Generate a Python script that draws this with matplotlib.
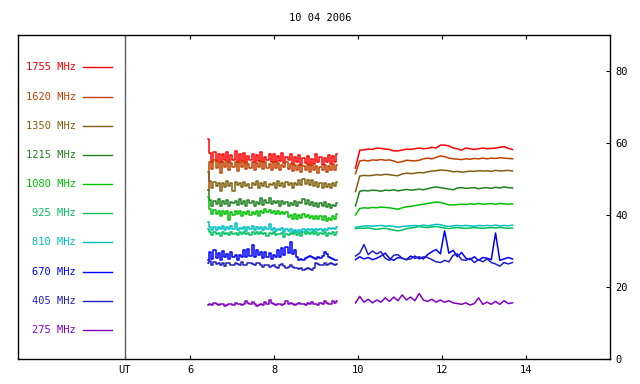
import numpy as np
import matplotlib
matplotlib.use('Agg')
import matplotlib.pyplot as plt

plt.rcParams['font.family'] = ['DejaVu Sans Mono']

title = '10 04 2006'
freqs = ['1755 MHz', '1620 MHz', '1350 MHz', '1215 MHz', '1080 MHz',
         '925 MHz', '810 MHz', '670 MHz', '405 MHz', '275 MHz']
colors = ['#ff0000', '#c04000', '#806010', '#208020', '#00c000',
          '#00c060', '#00c0c0', '#0000ff', '#2020c0', '#8000c0']

# time span of the two observing runs (UT hours)
run1 = (6.43, 9.51)
run2 = (9.94, 13.68)
xticks = [6, 8, 10, 12, 14]
yticks = [0, 20, 40, 60, 80]

# first run, sampled every ~0.05 h (noisy)
f1755_a = [61.0, 57.2, 54.8, 57.6, 55.0, 57.0, 54.6, 56.8, 55.4, 57.4, 54.8, 56.6, 55.2, 57.8, 54.6, 56.8,
           55.0, 57.2, 54.4, 56.4, 55.2, 57.0, 54.8, 56.6, 55.0, 57.6, 54.6, 56.2, 55.4, 57.0, 54.8, 56.8,
           54.6, 56.4, 55.0, 57.2, 54.4, 56.0, 55.2, 56.8, 54.2, 56.2, 54.6, 56.6, 54.0, 55.8, 54.4, 56.4,
           53.8, 55.6, 54.2, 56.8, 54.6, 56.2, 54.0, 55.8, 54.6, 56.6, 54.2, 56.4, 54.8, 57.0]
f1620_a = [47.0, 54.8, 52.8, 55.2, 53.0, 54.6, 51.8, 54.8, 53.4, 55.0, 52.6, 54.4, 53.2, 54.8, 52.2, 54.6,
           53.4, 55.0, 52.8, 54.2, 53.0, 54.8, 52.4, 54.4, 53.2, 55.0, 52.8, 54.6, 53.0, 54.2, 52.6, 54.8,
           53.0, 54.4, 52.4, 54.0, 53.2, 54.6, 52.8, 54.2, 52.2, 53.8, 52.6, 54.0, 52.0, 53.6, 52.4, 54.2,
           52.0, 53.8, 52.6, 53.6, 51.8, 53.4, 52.4, 54.0, 52.0, 53.6, 52.6, 54.2, 52.4, 53.8]
f1350_a = [52.0, 49.4, 47.6, 49.2, 48.0, 49.0, 46.6, 48.8, 47.8, 49.4, 48.0, 48.8, 46.8, 49.2, 48.2, 49.0,
           47.8, 49.2, 48.0, 48.6, 47.4, 49.0, 48.2, 49.4, 47.6, 48.8, 48.0, 49.2, 47.8, 48.6, 48.2, 49.0,
           47.6, 49.4, 48.0, 48.8, 47.8, 49.2, 48.2, 48.8, 47.6, 49.0, 48.4, 49.6, 48.2, 50.0, 48.6, 49.8,
           48.4, 49.6, 48.0, 49.2, 47.8, 48.8, 47.4, 49.0, 47.8, 48.6, 47.6, 48.8, 48.0, 49.2]
f1215_a = [47.0, 44.2, 42.6, 44.0, 43.0, 44.4, 42.6, 43.8, 43.0, 44.2, 42.4, 43.6, 43.2, 44.0, 42.8, 44.4,
           43.0, 43.8, 42.6, 44.2, 43.2, 44.0, 42.6, 43.6, 43.0, 44.6, 42.8, 44.2, 43.4, 44.8, 43.0, 44.0,
           43.2, 43.8, 42.6, 44.0, 43.0, 43.6, 42.6, 43.4, 42.8, 43.8, 42.4, 43.6, 43.2, 44.4, 43.0, 44.2,
           42.8, 43.6, 42.6, 43.4, 42.2, 43.2, 42.6, 43.6, 42.2, 43.0, 42.0, 42.8, 42.4, 43.4]
f1080_a = [45.0, 41.6, 40.2, 41.4, 40.4, 41.2, 39.8, 41.0, 40.2, 41.2, 38.6, 40.8, 40.0, 41.2, 40.4, 41.0,
           39.8, 40.8, 40.2, 41.2, 40.0, 40.8, 40.4, 41.0, 39.8, 41.0, 40.6, 41.6, 40.8, 41.4, 40.6, 41.2,
           40.4, 41.0, 40.2, 40.8, 40.4, 40.8, 39.4, 40.0, 39.0, 40.2, 38.8, 40.0, 39.2, 40.2, 39.4, 40.0,
           39.2, 39.8, 38.8, 39.6, 39.0, 39.8, 38.6, 39.6, 38.4, 39.2, 38.6, 39.6, 39.0, 40.2]
f925_a = [36.0, 35.2, 34.4, 35.2, 34.6, 35.0, 34.2, 35.2, 34.6, 35.0, 34.4, 35.2, 34.8, 35.0, 34.4, 35.2,
          34.6, 35.4, 34.8, 35.0, 34.4, 35.2, 34.6, 35.4, 34.8, 35.2, 34.6, 35.0, 34.2, 35.0, 34.6, 35.4,
          34.4, 34.8, 34.6, 35.0, 34.0, 34.8, 34.4, 35.0, 34.6, 35.2, 34.4, 35.0, 34.2, 35.2, 34.6, 35.2,
          34.8, 35.4, 34.6, 35.2, 34.4, 35.0, 34.6, 35.2, 34.2, 35.0, 34.6, 35.2, 34.4, 35.2]
f810_a = [38.0, 36.6, 35.8, 36.8, 35.8, 36.6, 36.0, 37.0, 35.8, 36.6, 36.2, 37.0, 36.0, 37.8, 35.8, 36.4,
          36.0, 36.8, 35.6, 36.6, 36.0, 37.0, 35.8, 36.6, 36.0, 36.8, 35.8, 36.6, 36.2, 37.6, 35.8, 36.4,
          35.6, 36.2, 35.8, 36.4, 35.4, 36.0, 35.6, 36.2, 35.4, 35.8, 35.2, 35.8, 35.4, 36.0, 35.6, 36.0,
          35.8, 36.2, 35.6, 36.0, 35.8, 36.2, 35.6, 36.0, 35.8, 36.4, 36.0, 36.4, 36.2, 36.8]
f670_a = [27.6, 29.6, 27.8, 30.2, 28.0, 29.4, 27.6, 30.0, 28.2, 29.2, 27.8, 29.6, 28.2, 29.0, 27.6, 28.8,
          28.4, 30.4, 28.2, 30.6, 28.6, 31.8, 28.4, 30.2, 28.8, 29.8, 28.0, 29.6, 28.2, 29.4, 27.8, 29.0,
          28.2, 30.2, 28.4, 30.8, 29.0, 31.2, 29.4, 32.6, 29.2, 30.4, 28.4, 27.6, 27.8, 27.4, 28.0, 28.2,
          28.6, 28.2, 28.0, 27.8, 28.2, 28.0, 28.6, 29.6, 29.2, 28.4, 28.0, 27.8, 27.6, 27.4]
f405_a = [26.6, 27.2, 26.2, 27.0, 26.4, 26.8, 26.0, 26.6, 25.8, 26.6, 26.8, 26.2, 26.0, 26.6, 26.4, 26.2,
          27.0, 26.2, 26.0, 26.6, 26.8, 26.4, 26.0, 26.8, 26.6, 26.0, 25.6, 26.2, 26.0, 25.6, 25.8, 26.2,
          25.6, 25.4, 26.0, 26.4, 25.8, 25.4, 25.6, 26.0, 25.6, 25.4, 25.2, 25.0, 25.2, 24.8, 25.0, 25.2,
          25.0, 24.8, 25.2, 26.8, 26.4, 26.0, 26.2, 26.6, 26.2, 26.4, 26.8, 26.4, 26.2, 26.4]
f275_a = [15.0, 15.4, 15.0, 15.6, 15.2, 15.0, 15.4, 15.2, 14.8, 15.0, 15.4, 15.2, 15.0, 15.6, 15.4, 15.2,
          15.0, 15.4, 16.2, 15.6, 15.2, 15.8, 15.4, 14.8, 15.0, 15.4, 15.0, 15.8, 15.4, 16.4, 15.6, 15.2,
          15.0, 15.4, 15.2, 15.0, 15.4, 16.0, 15.2, 15.6, 15.4, 15.0, 15.2, 15.6, 15.4, 15.2, 15.0, 15.6,
          15.2, 15.8, 15.4, 15.2, 15.0, 15.6, 15.4, 16.2, 15.6, 15.2, 15.4, 16.0, 15.6, 16.2]

# second run, sampled every ~0.1 h
f1755_b = [53.0, 58.0, 58.1, 58.3, 58.2, 58.6, 58.5, 58.3, 58.2, 57.8, 57.8, 58.0, 58.3, 58.2, 58.4, 58.6,
           58.4, 58.5, 58.8, 58.6, 59.4, 59.4, 59.2, 58.6, 58.4, 58.0, 58.6, 58.4, 58.2, 58.4, 58.6, 58.4,
           58.5, 58.6, 58.8, 59.0, 58.5, 58.2]
f1620_b = [51.5, 55.0, 55.2, 55.0, 55.3, 55.2, 55.4, 55.2, 55.3, 55.0, 54.6, 54.8, 55.2, 55.1, 55.0, 55.2,
           55.6, 55.8, 55.6, 56.0, 56.4, 56.2, 55.8, 55.6, 55.5, 55.4, 55.6, 55.5, 55.7, 55.6, 55.8, 55.6,
           55.8, 55.7, 55.9, 55.8, 55.7, 55.6]
f1350_b = [46.5, 50.8, 51.0, 50.9, 51.0, 51.2, 51.1, 51.3, 51.2, 51.0, 50.9, 51.4, 51.6, 51.5, 51.6, 51.8,
           51.7, 52.0, 52.2, 52.3, 52.5, 52.4, 52.3, 52.0, 52.1, 51.9, 52.0, 52.2, 52.1, 52.3, 52.2, 52.3,
           52.1, 52.4, 52.2, 52.3, 52.4, 52.2]
f1215_b = [42.5, 46.6, 46.8, 46.7, 46.9, 46.8, 46.6, 46.9, 46.8, 47.0, 46.7, 46.9, 47.1, 46.9, 47.0, 47.2,
           47.0, 47.3, 47.6, 47.8, 47.6, 47.4, 47.2, 47.0, 47.5, 47.6, 47.4, 47.5, 47.6, 47.3, 47.5, 47.6,
           47.4, 47.7, 47.5, 47.8, 47.6, 47.5]
f1080_b = [40.0, 41.8, 42.0, 41.9, 42.1, 42.0, 42.2, 42.1, 42.0, 41.8, 41.6, 42.0, 42.3, 42.4, 42.6, 42.8,
           43.0, 43.2, 43.4, 43.6, 43.5, 43.2, 42.8, 42.8, 42.9, 43.0, 42.9, 43.1, 43.0, 43.2, 43.0, 43.1,
           43.2, 43.0, 43.2, 43.1, 43.0, 43.1]
f925_b = [36.2, 36.4, 36.3, 36.4, 36.2, 36.0, 36.2, 36.3, 36.1, 35.8, 35.6, 35.8, 36.2, 36.4, 36.6, 36.8,
          36.6, 36.5, 36.7, 36.8, 36.6, 36.4, 36.2, 36.4, 36.5, 36.4, 36.3, 36.4, 36.5, 36.4, 36.3, 36.4,
          36.5, 36.4, 36.6, 36.4, 36.3, 36.4]
f810_b = [36.6, 36.8, 36.9, 37.0, 36.9, 37.0, 37.1, 36.9, 37.0, 36.8, 36.6, 36.8, 36.9, 37.0, 37.1, 36.9,
          37.2, 37.0, 37.2, 37.4, 37.3, 37.0, 36.8, 37.0, 37.1, 37.0, 37.1, 37.0, 36.9, 37.1, 37.0, 37.1,
          37.0, 37.2, 37.0, 37.1, 37.0, 37.2]
f670_b = [27.6, 28.4, 27.8, 28.2, 27.6, 28.0, 28.6, 29.4, 28.0, 27.4, 28.2, 28.0, 27.6, 28.6, 28.0, 28.4,
          27.8, 29.0, 29.8, 30.4, 29.2, 35.6, 29.4, 30.2, 28.4, 29.6, 28.0, 27.6, 28.4, 27.4, 28.2, 28.0,
          27.6, 35.0, 27.4, 27.8, 28.2, 27.8]
f405_b = [28.6, 29.4, 31.8, 29.0, 30.0, 29.2, 29.8, 28.0, 27.4, 28.8, 29.0, 28.0, 27.6, 27.8, 28.6, 27.8,
          28.4, 28.2, 27.6, 27.0, 26.8, 27.4, 27.0, 28.8, 29.2, 27.6, 27.4, 28.0, 26.8, 27.6, 27.0, 27.8,
          26.8, 26.4, 25.8, 26.8, 26.4, 26.8]
f275_b = [15.6, 17.4, 15.8, 16.6, 15.6, 16.4, 15.8, 17.0, 16.0, 17.2, 16.2, 17.8, 16.4, 17.2, 16.2, 18.2,
          16.4, 16.0, 16.6, 15.8, 16.4, 15.8, 16.2, 15.6, 15.4, 15.2, 15.6, 15.0, 15.4, 17.0, 15.2, 15.8,
          15.2, 16.0, 15.2, 16.2, 15.4, 15.6]

runs_a = [f1755_a, f1620_a, f1350_a, f1215_a, f1080_a, f925_a, f810_a, f670_a, f405_a, f275_a]
runs_b = [f1755_b, f1620_b, f1350_b, f1215_b, f1080_b, f925_b, f810_b, f670_b, f405_b, f275_b]

fig = plt.figure(figsize=(6.4, 3.84), dpi=100)
ax = fig.add_axes([0.028, 0.065, 0.925, 0.844])
ax.set_xlim(1.9, 16.0)
ax.set_ylim(0, 90)

for ya, yb, c in zip(runs_a, runs_b, colors):
    ta = np.linspace(run1[0], run1[1], len(ya))
    tb = np.linspace(run2[0], run2[1], len(yb))
    ax.plot(ta, ya, color=c, lw=1.1, drawstyle='steps-mid')
    ax.plot(tb, yb, color=c, lw=1.1)

# legend column on the left of the UT line
ut_x = 4.45
ax.axvline(ut_x, color='#606060', lw=1.0)
for i, (lab, c) in enumerate(zip(freqs, colors)):
    y = 81 - 8.1 * i
    ax.text(3.28, y, lab, color=c, fontsize=7.5, ha='right', va='center')
    ax.plot([3.45, 4.14], [y, y], color=c, lw=1.0)

ax.set_xticks([ut_x] + xticks)
ax.set_xticklabels(['UT'] + [str(v) for v in xticks], fontsize=7.5)
ax.set_yticks(yticks)
ax.set_yticklabels([str(v) for v in yticks], fontsize=7.5)
ax.yaxis.tick_right()
ax.tick_params(axis='x', direction='in', length=3, top=True, bottom=True, pad=4)
ax.tick_params(axis='y', direction='in', length=3, left=False, right=True, pad=4)
for s in ax.spines.values():
    s.set_linewidth(1.0)

fig.text(0.5, 0.953, title, fontsize=7.5, ha='center', va='center')

fig.savefig('out.png', dpi=100)
